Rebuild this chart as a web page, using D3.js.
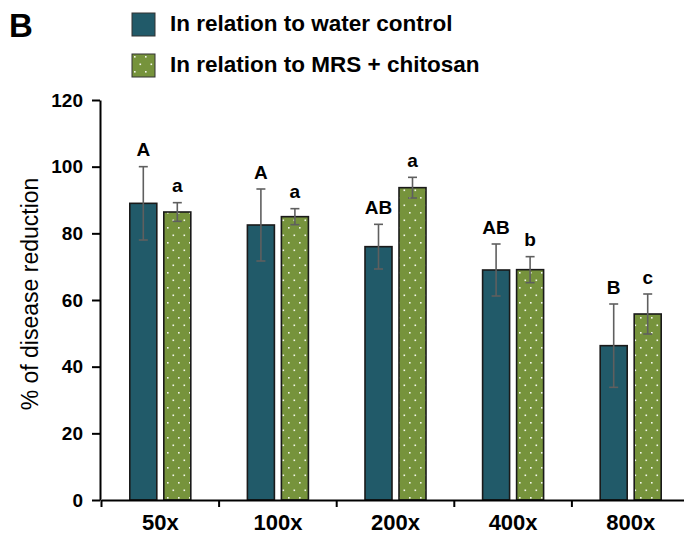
<!DOCTYPE html>
<html>
<head>
<meta charset="utf-8">
<script src="https://cdn.jsdelivr.net/npm/d3@7"></script>
<style>
    body{ margin: 0; background: #fff; overflow: hidden; }
    svg{ display: block; }
    text{ font-family: "Liberation Sans", Arial, sans-serif; }
</style>
</head>
<body>
<svg id="chart" width="684" height="534"></svg>
<script>
// categories and series
var categories = ['50x', '100x', '200x', '400x', '800x'];
var seriesNames = ['In relation to water control', 'In relation to MRS + chitosan'];

var waterValues = [89, 82.5, 76, 69, 46.3];
var waterErrors = [11, 10.8, 6.7, 7.8, 12.5];
var waterLetters = ['A', 'A', 'AB', 'AB', 'B'];

var mrsValues = [86.4, 85, 93.7, 69.1, 55.8];
var mrsErrors = [2.8, 2.4, 3.1, 3.9, 6];
var mrsLetters = ['a', 'a', 'a', 'b', 'c'];

var yTicks = [0, 20, 40, 60, 80, 100, 120];

var colors = ['#215a69', '#76933c'];

var svg = d3.select('#chart');

// pattern for the dotted green bars
var defs = svg.append('defs');
var pat = defs.append('pattern')
    .attr('id', 'dots')
    .attr('patternUnits', 'userSpaceOnUse')
    .attr('width', 11)
    .attr('height', 15);
pat.append('rect').attr('width', 11).attr('height', 15).attr('fill', colors[1]);
pat.append('rect').attr('x', 2).attr('y', 2).attr('width', 1.6).attr('height', 1.6).attr('fill', '#f4f7ec');
pat.append('rect').attr('x', 7.5).attr('y', 9.5).attr('width', 1.6).attr('height', 1.6).attr('fill', '#f4f7ec');

var fills = [colors[0], 'url(#dots)'];

// scales
var x = d3.scaleBand().domain(categories).range([101.5, 689.5]);
var bw = x.bandwidth();
var x1 = d3.scaleBand().domain([0, 1])
    .range([bw / 2 - 30.5, bw / 2 + 30.5])
    .paddingInner(0.206);
var y = d3.scaleLinear().domain([0, 120]).range([500, 100]);

// build rows from the arrays
var rows = [];
categories.forEach(function(c, i){
    rows.push({cat: c, s: 0, v: waterValues[i], e: waterErrors[i], l: waterLetters[i]});
    rows.push({cat: c, s: 1, v: mrsValues[i], e: mrsErrors[i], l: mrsLetters[i]});
});

// bars
svg.append('g').selectAll('rect')
    .data(rows)
    .enter().append('rect')
        .attr('x', function(d){ return x(d.cat) + x1(d.s); })
        .attr('y', function(d){ return y(d.v); })
        .attr('width', x1.bandwidth())
        .attr('height', function(d){ return y(0) - y(d.v); })
        .attr('fill', function(d){ return fills[d.s]; })
        .attr('stroke', '#1a1a1a')
        .attr('stroke-width', 1.6);

// error bars
var err = svg.append('g')
    .attr('stroke', '#5f5f5f')
    .attr('stroke-width', 1.6);
rows.forEach(function(d){
    var cx = x(d.cat) + x1(d.s) + x1.bandwidth() / 2;
    err.append('line').attr('x1', cx).attr('x2', cx).attr('y1', y(d.v + d.e)).attr('y2', y(d.v - d.e));
    err.append('line').attr('x1', cx - 4.5).attr('x2', cx + 4.5).attr('y1', y(d.v + d.e)).attr('y2', y(d.v + d.e));
    err.append('line').attr('x1', cx - 4.5).attr('x2', cx + 4.5).attr('y1', y(d.v - d.e)).attr('y2', y(d.v - d.e));
});

// significance letters
svg.append('g').selectAll('text')
    .data(rows)
    .enter().append('text')
        .attr('x', function(d){ return x(d.cat) + x1(d.s) + x1.bandwidth() / 2; })
        .attr('y', function(d){ return y(d.v + d.e) - 10.5; })
        .attr('text-anchor', 'middle')
        .attr('font-size', '19px')
        .attr('font-weight', 'bold')
        .text(function(d){ return d.l; });

// y axis
var yAxis = svg.append('g')
    .attr('transform', 'translate(100,0)')
    .call(d3.axisLeft(y).tickValues(yTicks).tickSize(8).tickPadding(9).tickSizeOuter(0));
yAxis.select('.domain').attr('stroke', '#000').attr('stroke-width', 2);
yAxis.selectAll('.tick line').attr('stroke', '#000').attr('stroke-width', 2);
yAxis.selectAll('.tick text')
    .attr('font-size', '19px')
    .attr('font-weight', 'bold')
    .attr('fill', '#000')
    .attr('font-family', '"Liberation Sans", Arial, sans-serif');

// x axis
var xAxis = svg.append('g')
    .attr('transform', 'translate(0,500)')
    .call(d3.axisBottom(x).tickSize(0).tickPadding(14).tickSizeOuter(0));
xAxis.select('.domain').attr('stroke', '#000').attr('stroke-width', 2);
xAxis.selectAll('.tick text')
    .attr('font-size', '22px')
    .attr('font-weight', 'bold')
    .attr('fill', '#000')
    .attr('font-family', '"Liberation Sans", Arial, sans-serif');

// ticks between categories
var bounds = categories.map(function(c){ return x(c); });
svg.append('g').selectAll('line')
    .data(bounds)
    .enter().append('line')
        .attr('x1', function(d){ return d; })
        .attr('x2', function(d){ return d; })
        .attr('y1', 500)
        .attr('y2', 507)
        .attr('stroke', '#000')
        .attr('stroke-width', 2);

// y axis title
svg.append('text')
    .attr('transform', 'translate(38,294) rotate(-90)')
    .attr('text-anchor', 'middle')
    .attr('font-size', '23px')
    .text('% of disease reduction');

// panel label
svg.append('text')
    .attr('x', 9)
    .attr('y', 37)
    .attr('font-size', '33px')
    .attr('font-weight', 'bold')
    .text('B');

// legend
var legend = svg.append('g').selectAll('g')
    .data(seriesNames)
    .enter().append('g')
        .attr('transform', function(d, i){ return 'translate(132,' + (13 + i * 41) + ')'; });
legend.append('rect')
    .attr('width', 23)
    .attr('height', 23)
    .attr('fill', function(d, i){ return fills[i]; })
    .attr('stroke', '#333')
    .attr('stroke-width', 1);
legend.append('text')
    .attr('x', 38)
    .attr('y', 18)
    .attr('font-size', '22.5px')
    .attr('font-weight', 'bold')
    .text(function(d){ return d; });
</script>
</body>
</html>
